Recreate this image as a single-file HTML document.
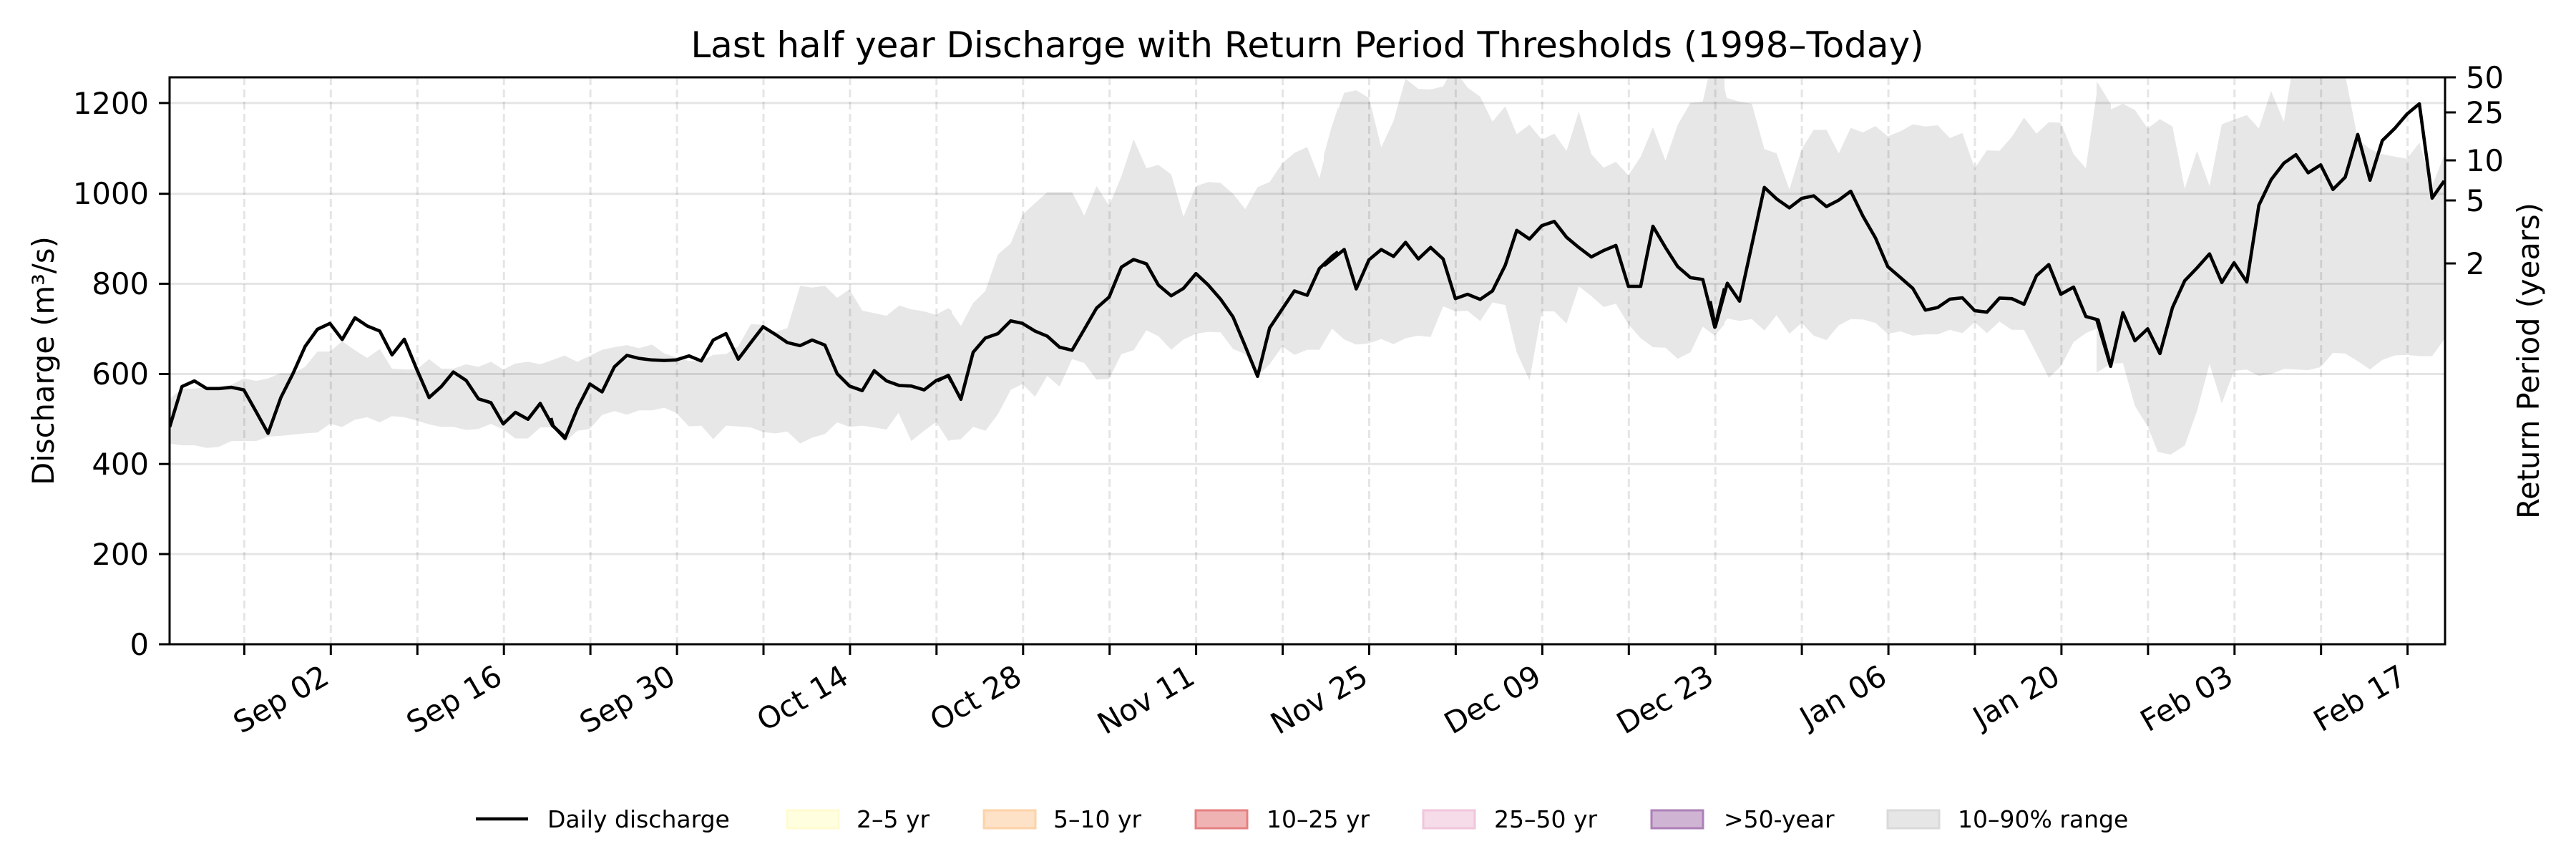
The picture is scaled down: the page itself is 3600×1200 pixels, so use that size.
<!DOCTYPE html>
<html><head><meta charset="utf-8"><style>html,body{margin:0;padding:0;background:#fff}svg{display:block}</style></head>
<body>
<svg xmlns="http://www.w3.org/2000/svg" width="3600" height="1200" viewBox="0 0 3600 1200" font-family="DejaVu Sans, Liberation Sans, sans-serif">
<defs><clipPath id="pa"><rect x="237" y="108" width="3180" height="792"/></clipPath></defs>
<rect width="3600" height="1200" fill="#fff"/>
<g clip-path="url(#pa)">
<g fill="#e7e7e7" stroke="none">
<polygon transform="translate(230,100) scale(0.35714)" points="20,1280 68,1240 117,1240 165,1235 212,1232 262,1225 310,1200 358,1210 405,1200 455,1180 503,1180 550,1155 598,1095 647,1095 695,1055 745,1090 793,1120 842,1085 890,1162 938,1165 987,1165 1035,1125 1083,1162 1130,1162 1180,1145 1228,1155 1277,1135 1325,1165 1373,1142 1422,1135 1470,1145 1518,1128 1568,1110 1568,1440 1518,1392 1470,1392 1422,1435 1373,1435 1325,1400 1277,1378 1228,1398 1180,1402 1130,1390 1083,1390 1035,1380 987,1365 938,1352 890,1348 842,1372 793,1352 745,1362 695,1390 647,1378 598,1412 550,1415 503,1420 455,1425 405,1428 358,1445 310,1445 262,1445 212,1468 165,1472 117,1462 68,1462 20,1455"/>
<polygon transform="translate(770,100) scale(0.35714)" points="0,1135 55,1112 103,1135 152,1112 200,1088 248,1078 297,1070 345,1082 395,1068 443,1102 490,1118 540,1132 588,1132 635,1108 685,1105 733,1075 782,988 830,990 878,1020 925,1003 975,838 1022,845 1072,838 1120,885 1168,852 1218,935 1265,945 1313,955 1363,915 1410,930 1460,938 1508,952 1555,925 1568,935 1568,1440 1555,1445 1508,1370 1460,1405 1410,1445 1360,1335 1313,1400 1265,1392 1218,1385 1168,1390 1120,1372 1072,1418 1022,1432 975,1455 925,1408 878,1415 830,1410 782,1392 733,1388 685,1385 635,1438 588,1385 540,1388 490,1335 443,1315 395,1325 345,1325 297,1342 248,1328 200,1343 152,1398 103,1405 55,1448 0,1370"/>
<polygon transform="translate(1310,100) scale(0.35714)" points="0,948 43,925 92,995 140,905 188,858 237,715 287,672 333,560 382,515 430,472 478,472 527,472 575,563 623,448 672,525 720,410 768,265 818,378 865,365 915,402 963,568 1012,448 1060,432 1108,435 1157,478 1205,538 1253,452 1300,432 1350,358 1397,318 1447,295 1495,418 1545,210 1568,140 1568,1020 1545,1005 1495,1088 1447,1088 1397,1108 1350,1075 1300,1145 1253,1190 1205,1105 1157,1085 1108,1020 1060,1018 1012,1025 963,1048 915,1088 865,1035 818,1012 768,1090 720,1105 672,1202 623,1205 575,1140 527,1125 478,1232 430,1190 382,1272 333,1222 287,1245 237,1340 188,1405 140,1390 92,1438 43,1442 0,1378"/>
<polygon transform="translate(1850,60) scale(0.35714)" points="0,440 30,330 80,195 127,185 177,215 225,408 273,305 320,140 370,180 418,182 467,170 500,110 515,110 563,175 612,210 660,308 710,248 755,357 805,320 853,378 902,355 950,422 998,268 1047,435 1095,488 1143,465 1192,518 1240,445 1288,330 1337,460 1385,320 1435,235 1483,230 1510,110 1568,110 1568,1100 1530,1145 1483,1110 1435,1210 1385,1235 1337,1192 1288,1190 1240,1155 1192,1100 1143,1020 1095,1033 1047,990 998,952 950,1098 902,1050 853,1050 805,1320 755,1210 710,1025 660,1015 612,1088 563,1048 515,1050 467,1030 418,1150 370,1145 320,1155 273,1178 225,1158 177,1175 127,1180 80,1160 30,1115 0,1150"/>
<polygon transform="translate(2390,60) scale(0.35714)" points="0,110 40,110 65,215 115,230 163,238 212,415 260,432 310,573 358,415 405,340 455,340 503,432 550,332 598,350 647,325 695,365 745,345 793,318 842,327 890,322 938,372 987,352 1035,490 1083,420 1132,422 1180,368 1228,292 1277,355 1325,310 1372,312 1422,435 1470,490 1518,158 1568,240 1568,1100 1518,1115 1470,1135 1422,1170 1372,1265 1325,1310 1277,1215 1228,1122 1180,1122 1132,1090 1083,1135 1035,1092 987,1135 938,1122 890,1140 842,1140 793,1145 745,1128 695,1138 647,1095 598,1082 550,1080 503,1105 455,1162 405,1145 358,1095 310,1137 260,1065 212,1125 163,1080 115,1087 67,1078 20,1140 0,1130"/>
<polygon transform="translate(2930,60) scale(0.35714)" points="0,150 55,260 103,238 150,262 200,335 248,298 297,327 345,570 393,422 442,560 490,318 538,300 588,282 635,335 683,188 733,308 765,110 970,110 1022,375 1070,415 1118,435 1168,445 1215,453 1263,390 1313,560 1360,440 1360,1160 1313,1225 1263,1225 1215,1220 1168,1222 1118,1240 1070,1277 1022,1245 973,1215 925,1212 877,1268 828,1280 780,1277 733,1275 683,1295 635,1302 588,1278 538,1282 490,1410 442,1255 393,1440 345,1575 290,1610 240,1600 200,1500 150,1420 103,1252 55,1255 0,1290"/>
</g>
</g>
<!-- horizontal grid -->
<g stroke="#000" stroke-opacity="0.1" stroke-width="3">
<line x1="237" x2="3417" y1="774" y2="774"/><line x1="237" x2="3417" y1="648.2" y2="648.2"/><line x1="237" x2="3417" y1="522.5" y2="522.5"/><line x1="237" x2="3417" y1="396.4" y2="396.4"/><line x1="237" x2="3417" y1="270.7" y2="270.7"/><line x1="237" x2="3417" y1="143.9" y2="143.9"/>
</g>
<!-- vertical dashed grid -->
<g stroke="#000" stroke-opacity="0.1" stroke-width="3" stroke-dasharray="11,6">
<line x1="341.4" x2="341.4" y1="108" y2="900"/><line x1="462.3" x2="462.3" y1="108" y2="900"/><line x1="583.3" x2="583.3" y1="108" y2="900"/><line x1="704.2" x2="704.2" y1="108" y2="900"/><line x1="825.1" x2="825.1" y1="108" y2="900"/><line x1="946.1" x2="946.1" y1="108" y2="900"/><line x1="1067" x2="1067" y1="108" y2="900"/><line x1="1187.9" x2="1187.9" y1="108" y2="900"/><line x1="1308.8" x2="1308.8" y1="108" y2="900"/><line x1="1429.8" x2="1429.8" y1="108" y2="900"/><line x1="1550.7" x2="1550.7" y1="108" y2="900"/><line x1="1671.6" x2="1671.6" y1="108" y2="900"/><line x1="1792.6" x2="1792.6" y1="108" y2="900"/><line x1="1913.5" x2="1913.5" y1="108" y2="900"/><line x1="2034.4" x2="2034.4" y1="108" y2="900"/><line x1="2155.4" x2="2155.4" y1="108" y2="900"/><line x1="2276.3" x2="2276.3" y1="108" y2="900"/><line x1="2397.2" x2="2397.2" y1="108" y2="900"/><line x1="2518.1" x2="2518.1" y1="108" y2="900"/><line x1="2639.1" x2="2639.1" y1="108" y2="900"/><line x1="2760" x2="2760" y1="108" y2="900"/><line x1="2880.9" x2="2880.9" y1="108" y2="900"/><line x1="3001.9" x2="3001.9" y1="108" y2="900"/><line x1="3122.8" x2="3122.8" y1="108" y2="900"/><line x1="3243.7" x2="3243.7" y1="108" y2="900"/><line x1="3364.6" x2="3364.6" y1="108" y2="900"/>
</g>
<g clip-path="url(#pa)">
<g fill="none" stroke="#000" stroke-width="4.6" stroke-linejoin="round">
<polyline vector-effect="non-scaling-stroke" transform="translate(230,100) scale(0.35714)" points="20,1390 68,1232 117,1210 165,1240 212,1240 262,1235 310,1245 358,1330 405,1415 455,1275 503,1180 550,1075 598,1008 647,985 695,1048 745,963 793,995 842,1015 890,1108 938,1047 987,1165 1035,1275 1083,1232 1130,1175 1180,1208 1228,1280 1277,1295 1325,1378 1373,1333 1422,1360 1470,1298 1518,1385 1568,1430"/>
<polyline vector-effect="non-scaling-stroke" transform="translate(770,100) scale(0.35714)" points="0,1355 8,1385 55,1435 103,1318 152,1222 200,1253 248,1155 297,1110 345,1122 395,1128 443,1130 490,1128 540,1112 588,1132 635,1050 685,1025 733,1125 782,1060 830,998 878,1028 925,1060 975,1072 1022,1050 1072,1070 1120,1182 1168,1230 1218,1248 1265,1170 1313,1210 1363,1228 1410,1230 1460,1245 1508,1208 1555,1190 1568,1215"/>
<polyline vector-effect="non-scaling-stroke" transform="translate(1310,100) scale(0.35714)" points="0,1210 43,1188 92,1282 140,1098 188,1042 237,1025 287,975 333,985 382,1015 430,1035 478,1078 527,1090 575,1008 623,925 672,882 720,765 768,735 818,752 865,835 915,877 963,848 1012,790 1060,835 1108,890 1157,960 1205,1075 1253,1192 1300,1003 1350,928 1397,858 1447,875 1495,770 1545,722 1568,705"/>
<polyline vector-effect="non-scaling-stroke" transform="translate(1850,60) scale(0.35714)" points="0,872 80,808 127,962 177,848 225,808 273,835 320,780 370,845 418,800 467,845 515,1000 563,983 612,1003 660,970 710,870 755,733 805,767 853,715 902,698 950,760 998,800 1047,837 1095,812 1143,792 1192,952 1240,952 1288,717 1337,800 1385,875 1435,918 1483,925 1530,1112 1568,960"/>
<polyline vector-effect="non-scaling-stroke" transform="translate(2390,60) scale(0.35714)" points="0,1010 20,1110 67,940 115,1010 163,790 212,565 260,610 310,645 358,608 405,598 455,640 503,615 550,580 598,678 647,763 695,875 745,918 793,960 842,1045 890,1035 938,1002 987,997 1035,1047 1083,1053 1132,998 1180,1000 1228,1022 1277,910 1325,867 1372,983 1422,955 1470,1070 1518,1083 1568,1265"/>
<polyline vector-effect="non-scaling-stroke" transform="translate(2930,60) scale(0.35714)" points="0,1080 55,1265 103,1055 150,1165 200,1118 248,1215 297,1035 345,930 393,880 442,825 490,937 538,860 588,935 635,635 683,535 733,470 780,437 828,508 877,477 925,573 973,525 1022,358 1070,537 1118,382 1168,333 1215,278 1263,238 1313,607 1360,540"/>
</g>
</g>
<rect x="237" y="108" width="3180" height="792" fill="none" stroke="#000" stroke-width="3"/>
<g stroke="#000" stroke-width="3">
<line x1="222" x2="237" y1="900" y2="900"/><line x1="222" x2="237" y1="774" y2="774"/><line x1="222" x2="237" y1="648.2" y2="648.2"/><line x1="222" x2="237" y1="522.5" y2="522.5"/><line x1="222" x2="237" y1="396.4" y2="396.4"/><line x1="222" x2="237" y1="270.7" y2="270.7"/><line x1="222" x2="237" y1="143.9" y2="143.9"/>
<line x1="3417" x2="3432" y1="108" y2="108"/><line x1="3417" x2="3432" y1="157" y2="157"/><line x1="3417" x2="3432" y1="224" y2="224"/><line x1="3417" x2="3432" y1="280" y2="280"/><line x1="3417" x2="3432" y1="368" y2="368"/>
<line x1="341.4" x2="341.4" y1="900" y2="915"/><line x1="462.3" x2="462.3" y1="900" y2="915"/><line x1="583.3" x2="583.3" y1="900" y2="915"/><line x1="704.2" x2="704.2" y1="900" y2="915"/><line x1="825.1" x2="825.1" y1="900" y2="915"/><line x1="946.1" x2="946.1" y1="900" y2="915"/><line x1="1067" x2="1067" y1="900" y2="915"/><line x1="1187.9" x2="1187.9" y1="900" y2="915"/><line x1="1308.8" x2="1308.8" y1="900" y2="915"/><line x1="1429.8" x2="1429.8" y1="900" y2="915"/><line x1="1550.7" x2="1550.7" y1="900" y2="915"/><line x1="1671.6" x2="1671.6" y1="900" y2="915"/><line x1="1792.6" x2="1792.6" y1="900" y2="915"/><line x1="1913.5" x2="1913.5" y1="900" y2="915"/><line x1="2034.4" x2="2034.4" y1="900" y2="915"/><line x1="2155.4" x2="2155.4" y1="900" y2="915"/><line x1="2276.3" x2="2276.3" y1="900" y2="915"/><line x1="2397.2" x2="2397.2" y1="900" y2="915"/><line x1="2518.1" x2="2518.1" y1="900" y2="915"/><line x1="2639.1" x2="2639.1" y1="900" y2="915"/><line x1="2760" x2="2760" y1="900" y2="915"/><line x1="2880.9" x2="2880.9" y1="900" y2="915"/><line x1="3001.9" x2="3001.9" y1="900" y2="915"/><line x1="3122.8" x2="3122.8" y1="900" y2="915"/><line x1="3243.7" x2="3243.7" y1="900" y2="915"/><line x1="3364.6" x2="3364.6" y1="900" y2="915"/>
</g>
<g font-size="41.7" fill="#000">
<g text-anchor="end">
<text x="208" y="915">0</text><text x="208" y="789">200</text><text x="208" y="663">400</text><text x="208" y="537">600</text><text x="208" y="411">800</text><text x="208" y="285">1000</text><text x="208" y="159">1200</text>
</g>
<g text-anchor="start">
<text x="3446" y="123">50</text><text x="3446" y="172">25</text><text x="3446" y="239">10</text><text x="3446" y="295">5</text><text x="3446" y="383">2</text>
</g>
<g text-anchor="end" dominant-baseline="hanging">
<text transform="translate(447,926) rotate(-30)">Sep 02</text>
<text transform="translate(689,926) rotate(-30)">Sep 16</text>
<text transform="translate(931,926) rotate(-30)">Sep 30</text>
<text transform="translate(1173,926) rotate(-30)">Oct 14</text>
<text transform="translate(1415,926) rotate(-30)">Oct 28</text>
<text transform="translate(1657,926) rotate(-30)">Nov 11</text>
<text transform="translate(1899,926) rotate(-30)">Nov 25</text>
<text transform="translate(2141,926) rotate(-30)">Dec 09</text>
<text transform="translate(2382,926) rotate(-30)">Dec 23</text>
<text transform="translate(2624,926) rotate(-30)">Jan 06</text>
<text transform="translate(2866,926) rotate(-30)">Jan 20</text>
<text transform="translate(3108,926) rotate(-30)">Feb 03</text>
<text transform="translate(3350,926) rotate(-30)">Feb 17</text>
</g>
<text transform="translate(75,504) rotate(-90)" text-anchor="middle">Discharge (m³/s)</text>
<text transform="translate(3548,504) rotate(-90)" text-anchor="middle">Return Period (years)</text>
</g>
<text x="1827" y="80" font-size="50" text-anchor="middle" fill="#000">Last half year Discharge with Return Period Thresholds (1998–Today)</text>
<g font-size="33" fill="#000">
<line x1="665" x2="738" y1="1144" y2="1144" stroke="#000" stroke-width="4.6"/>
<text x="765" y="1156">Daily discharge</text>
<rect x="1100" y="1132" width="72" height="25" fill="#ffffe0" stroke="#fffbd0" stroke-width="3"/>
<text x="1197" y="1156">2–5 yr</text>
<rect x="1375" y="1132" width="72" height="25" fill="#fde2c8" stroke="#fdd3a8" stroke-width="3"/>
<text x="1472" y="1156">5–10 yr</text>
<rect x="1671" y="1132" width="72" height="25" fill="#f0b3b3" stroke="#e58080" stroke-width="3"/>
<text x="1770" y="1156">10–25 yr</text>
<rect x="1989" y="1132" width="72" height="25" fill="#f6dce8" stroke="#f0c6dc" stroke-width="3"/>
<text x="2088" y="1156">25–50 yr</text>
<rect x="2308" y="1132" width="72" height="25" fill="#cfb5d3" stroke="#ad80b8" stroke-width="3"/>
<text x="2409" y="1156">&gt;50-year</text>
<rect x="2638" y="1132" width="72" height="25" fill="#e6e6e6" stroke="#dadada" stroke-width="3"/>
<text x="2736" y="1156">10–90% range</text>
</g>
</svg>
</body></html>
